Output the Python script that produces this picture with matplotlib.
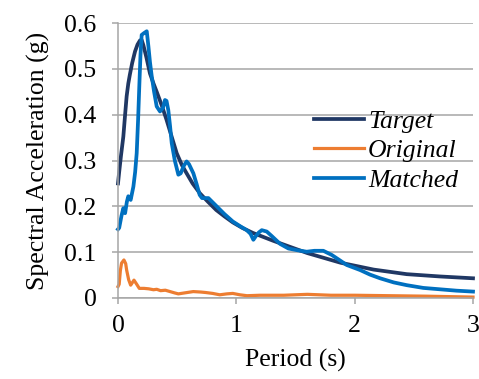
import matplotlib
matplotlib.use("Agg")
import matplotlib.pyplot as plt

target_T = [0, 0.01, 0.025, 0.045, 0.06, 0.073, 0.087, 0.1, 0.12, 0.144, 0.165, 0.186, 0.2, 0.214,
            0.24, 0.27, 0.3, 0.327, 0.37, 0.41, 0.45, 0.496, 0.54, 0.58, 0.63, 0.69, 0.76, 0.83,
            0.9, 0.97, 1.05, 1.14, 1.31, 1.6, 1.88, 2.16, 2.44, 2.72, 3.0]
target_SA = [0.25, 0.275, 0.31, 0.352, 0.40, 0.44, 0.468, 0.487, 0.513, 0.538, 0.553, 0.562,
             0.563, 0.552, 0.525, 0.49, 0.468, 0.45, 0.42, 0.389, 0.355, 0.316, 0.29, 0.272,
             0.25, 0.229, 0.21, 0.192, 0.178, 0.165, 0.153, 0.142, 0.125, 0.098, 0.077, 0.062,
             0.052, 0.047, 0.043]

original_T = [0, 0.01, 0.02, 0.03, 0.05, 0.065, 0.073, 0.09, 0.107, 0.12, 0.135, 0.158, 0.18,
              0.22, 0.26, 0.3, 0.327, 0.36, 0.4, 0.44, 0.48, 0.51, 0.56, 0.636, 0.7, 0.74, 0.8,
              0.86, 0.92, 0.97, 1.03, 1.09, 1.2, 1.4, 1.6, 1.8, 2.0, 2.3, 2.6, 3.0]
original_SA = [0.025, 0.03, 0.06, 0.076, 0.083, 0.075, 0.061, 0.04, 0.028, 0.033, 0.039, 0.03,
               0.021, 0.021, 0.02, 0.018, 0.019, 0.016, 0.017, 0.014, 0.011, 0.009, 0.011, 0.014,
               0.013, 0.012, 0.01, 0.007, 0.009, 0.01, 0.007, 0.005, 0.006, 0.006, 0.008, 0.006,
               0.006, 0.005, 0.004, 0.002]

matched_T = [0, 0.01, 0.03, 0.045, 0.06, 0.075, 0.087, 0.107, 0.13, 0.145, 0.158, 0.17, 0.18,
             0.19, 0.2, 0.22, 0.243, 0.257, 0.27, 0.285, 0.305, 0.327, 0.355, 0.38, 0.397, 0.41,
             0.425, 0.44, 0.454, 0.48, 0.51, 0.53, 0.555, 0.58, 0.6, 0.637, 0.665, 0.69, 0.71,
             0.764, 0.834, 0.9, 0.97, 1.03, 1.088, 1.12, 1.144, 1.165, 1.19, 1.215, 1.257, 1.3,
             1.37, 1.44, 1.52, 1.595, 1.66, 1.735, 1.806, 1.87, 1.933, 2.046, 2.13, 2.215, 2.33,
             2.44, 2.58, 2.72, 2.86, 3.0]
matched_SA = [0.15, 0.153, 0.18, 0.196, 0.185, 0.21, 0.222, 0.214, 0.243, 0.275, 0.316, 0.39,
              0.462, 0.53, 0.574, 0.578, 0.582, 0.549, 0.515, 0.484, 0.45, 0.418, 0.407, 0.415,
              0.432, 0.43, 0.41, 0.375, 0.338, 0.3, 0.269, 0.272, 0.288, 0.298, 0.292, 0.272,
              0.248, 0.225, 0.218, 0.218, 0.2, 0.183, 0.167, 0.157, 0.148, 0.14, 0.127, 0.135,
              0.143, 0.148, 0.145, 0.135, 0.118, 0.108, 0.104, 0.101, 0.103, 0.103, 0.094, 0.083,
              0.072, 0.061, 0.051, 0.043, 0.034, 0.028, 0.022, 0.019, 0.016, 0.014]

x_ticks = [0, 1, 2, 3]
y_ticks = [0, 0.1, 0.2, 0.3, 0.4, 0.5, 0.6]
y_ticklabels = ["0", "0.1", "0.2", "0.3", "0.4", "0.5", "0.6"]

FS = 18.5
plt.rcParams['font.family'] = ['Liberation Serif', 'DejaVu Serif']

fig = plt.figure(figsize=(4.79, 3.79), dpi=100)
ax = fig.add_axes([118 / 479, 1 - 298 / 379, (473 - 118) / 479, (298 - 23) / 379])

grid_c = '#a6a6a6'
ax.set_xlim(0, 3)
ax.set_ylim(0, 0.6)
ax.set_yticks(y_ticks)
ax.set_yticklabels(y_ticklabels)
ax.set_xticks(x_ticks)
ax.yaxis.grid(True, color=grid_c, linewidth=1.1)
ax.set_axisbelow(True)
for s in ['top', 'right']:
    ax.spines[s].set_visible(False)
for s in ['left', 'bottom']:
    ax.spines[s].set_color(grid_c)
    ax.spines[s].set_linewidth(1.1)
ax.tick_params(axis='both', direction='out', length=4.5, width=1.1, color=grid_c,
               labelsize=FS, labelcolor='black')
ax.tick_params(axis='y', pad=11)
ax.tick_params(axis='x', pad=8)

lw = 2.7
ax.plot(target_T, target_SA, color='#203864', lw=lw, label='Target', solid_joinstyle='round', clip_on=False)
ax.plot(original_T, original_SA, color='#ED7D31', lw=2.3, label='Original', solid_joinstyle='round', clip_on=False)
ax.plot(matched_T, matched_SA, color='#0070C0', lw=lw, label='Matched', solid_joinstyle='round', clip_on=False)

ax.set_xlabel('Period (s)', fontsize=FS, labelpad=8)
ax.set_ylabel('Spectral Acceleration (g)', fontsize=FS, labelpad=10)

leg = fig.legend(loc='center left', bbox_to_anchor=(314 / 479, 1 - 151 / 379),
                 frameon=False, borderpad=0, borderaxespad=0, handlelength=1.95,
                 handletextpad=0.15, labelspacing=0.27,
                 prop={'family': 'Liberation Serif', 'style': 'italic', 'size': FS})

fig.savefig('out.png', dpi=100)
